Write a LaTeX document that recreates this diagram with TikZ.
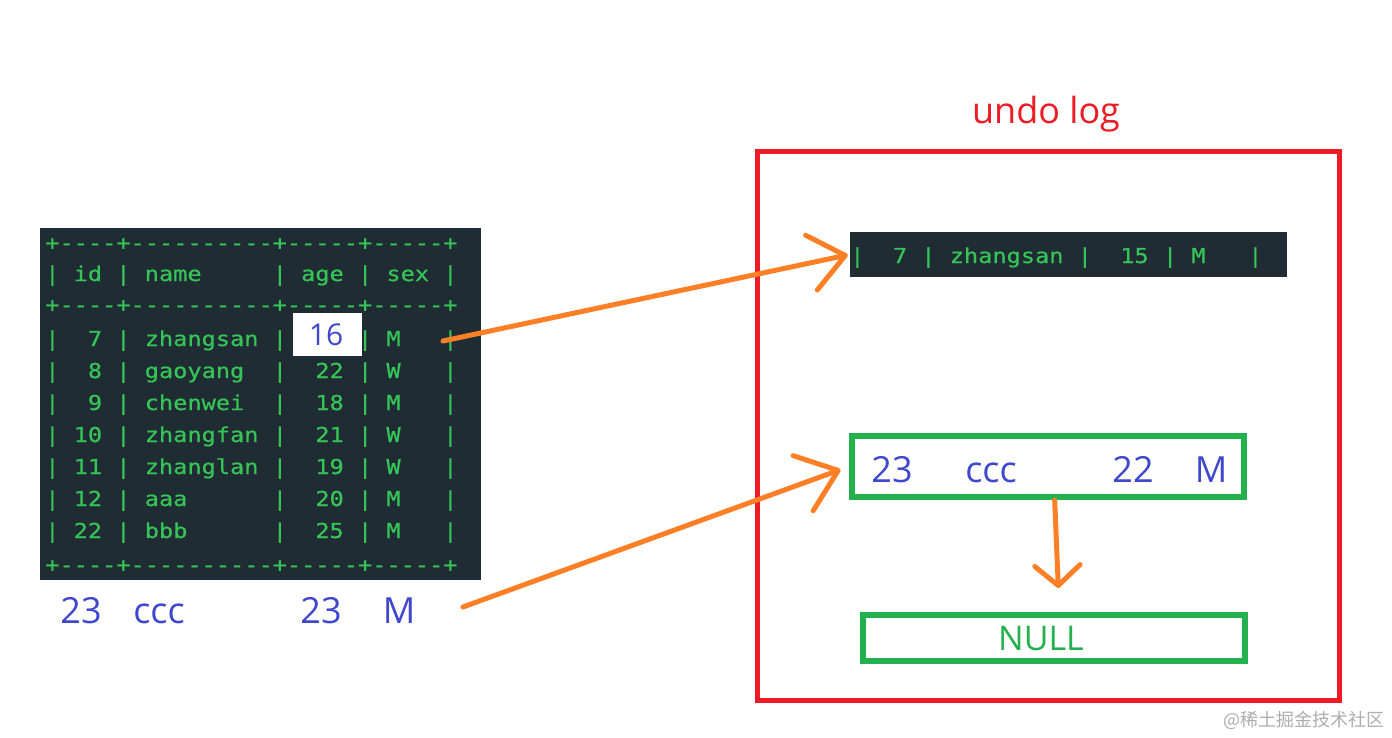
\documentclass[tikz,border=0pt]{standalone}
\usepackage{fontspec}
\usetikzlibrary{arrows.meta}
\newfontfamily\termfont[FakeStretch=1.15,FakeBold=0.6]{DejaVu Sans Mono}
\newfontfamily\uifont{Open Sans}
\newfontfamily\cjkfont{Noto Sans CJK SC}
\definecolor{termbg}{HTML}{1F2C34}
\definecolor{termgreen}{HTML}{36C456}
\definecolor{pblue}{HTML}{3F48CC}
\definecolor{porange}{HTML}{FF7F27}
\definecolor{pgreen}{HTML}{22B14C}
\definecolor{pred}{HTML}{ED1C24}
\begin{document}
\begin{tikzpicture}[x=0.75pt,y=-0.75pt,
  term/.style={font=\termfont\fontsize{15.4}{18}\selectfont, text=termgreen, anchor=base west, inner sep=0pt},
  bluetxt/.style={font=\uifont\fontsize{27}{32}\selectfont, text=pblue, anchor=base, inner sep=0pt},
  orangeline/.style={draw=porange, line width=3.75pt, line cap=round, line join=round},
  greenbox/.style={draw=pgreen, line width=4.5pt, inner sep=0pt},
  darkpanel/.style={fill=termbg, inner sep=0pt}
]
\useasboundingbox (0,0) rectangle (1392,738);
\fill[white] (0,0) rectangle (1392,738);

% ---- left table ----
\node[darkpanel, minimum width=330.75pt, minimum height=264pt] (table) at (260.5,404) {};
\node[term] (r0) at (45,250) {+----+----------+-----+-----+};
\node[term] (r1) at (45,281) {|~id~|~name~~~~~|~age~|~sex~|};
\node[term] (r2) at (45,312) {+----+----------+-----+-----+};
\node[term] (r3) at (45,346) {|~~7~|~zhangsan~|~~~~~|~M~~~|};
\node[term] (r4) at (45,378) {|~~8~|~gaoyang~~|~~22~|~W~~~|};
\node[term] (r5) at (45,410) {|~~9~|~chenwei~~|~~18~|~M~~~|};
\node[term] (r6) at (45,442) {|~10~|~zhangfan~|~~21~|~W~~~|};
\node[term] (r7) at (45,474) {|~11~|~zhanglan~|~~19~|~W~~~|};
\node[term] (r8) at (45,506) {|~12~|~aaa~~~~~~|~~20~|~M~~~|};
\node[term] (r9) at (45,538) {|~22~|~bbb~~~~~~|~~25~|~M~~~|};
\node[term] (r10) at (45,572) {+----+----------+-----+-----+};
\node[fill=white, inner sep=0pt, minimum width=51.75pt, minimum height=32.25pt] (agebox) at (327.5,334.5) {};
\node[font=\uifont\fontsize{22.5}{26}\selectfont, text=pblue, inner sep=0pt] (age16) at (326,335) {16};

% ---- new row below table ----
\node[bluetxt] (n23) at (81,623) {23};
\node[bluetxt] (nccc) at (159,623) {ccc};
\node[bluetxt] (nage) at (321,623) {23};
\node[bluetxt] (nsex) at (399,623) {M};

% ---- undo log ----
\node[font=\uifont\fontsize{27}{32}\selectfont, text=pred, inner sep=0pt] (title) at (1046,114) {undo log};
\node[draw=pred, line width=3.75pt, inner sep=0pt, minimum width=436.5pt, minimum height=411pt] (undo) at (1048,426) {};

\node[darkpanel, minimum width=327.75pt, minimum height=33.75pt] (strip) at (1068.5,254.5) {};
\node[term] (srow) at (850,263) {|~~7~|~zhangsan~|~~15~|~M~~~|};

\node[greenbox, minimum width=294pt, minimum height=45.75pt] (box1) at (1048,466.5) {};
\node[bluetxt] (b23) at (892,482) {23};
\node[bluetxt] (bccc) at (991,482) {ccc};
\node[bluetxt] (b22) at (1133,482) {22};
\node[bluetxt] (bM) at (1211,482) {M};

\node[greenbox, minimum width=286.5pt, minimum height=34.5pt] (null) at (1054,638) {};
\node[font=\uifont\fontsize{25.5}{30}\selectfont, text=pgreen, inner sep=0pt] (nulltxt) at (1041,639) {NULL};

% ---- watermark ----
\node[font=\cjkfont\fontsize{13.5}{16}\selectfont, text=black!32, inner sep=0pt, anchor=east] (wm) at (1385,720) {@稀土掘金技术社区};

% ---- arrows ----
\coordinate (a1s) at (443,341);
\coordinate (a2s) at (463,607);
\draw[orangeline, -{Straight Barb[length=26pt,width=42pt,round]}, shorten >=1.5pt] (a1s) -- (strip.west);
\draw[orangeline, -{Straight Barb[length=28pt,width=44pt,round]}, shorten >=6.75pt] (a2s) -- (box1.west);
\draw[orangeline, -{Straight Barb[length=15pt,width=34pt,round]}, shorten >=18pt] ([xshift=5pt]box1.south) -- ([xshift=4pt]null.north);
\end{tikzpicture}
\end{document}
